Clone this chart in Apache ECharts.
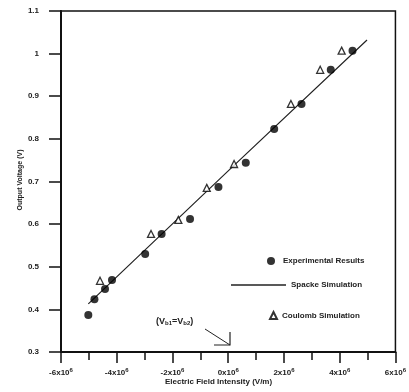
<!DOCTYPE html>
<html>
<head>
<meta charset="utf-8">
<script src="https://cdn.jsdelivr.net/npm/echarts@6/dist/echarts.min.js"></script>
<style>
  html, body { margin: 0; padding: 0; background: #fff; }
  #chart { width: 409px; height: 392px; }
</style>
</head>
<body>
<div id="chart"></div>
<script>
// --- data (field in V/m, voltage in V) ---
var expField = [-5.02e6, -4.8e6, -4.42e6, -4.17e6, -2.98e6, -2.39e6, -1.37e6, -0.35e6, 0.63e6, 1.65e6, 2.63e6, 3.68e6, 4.46e6];
var expVolt = [0.387, 0.424, 0.448, 0.469, 0.530, 0.577, 0.612, 0.687, 0.744, 0.823, 0.882, 0.962, 1.007];

var coulField = [-4.6e6, -2.77e6, -1.79e6, -0.77e6, 0.21e6, 2.25e6, 3.3e6, 4.07e6];
var coulVolt = [0.467, 0.577, 0.610, 0.685, 0.741, 0.882, 0.962, 1.007];

var spackeField = [-5.02e6, 0, 4.98e6];
var spackeVolt = [0.413, 0.725, 1.032];

var seriesNames = ['Experimental Results', 'Spacke Simulation', 'Coulomb Simulation'];
var annotationText = '(V{s|b1}=V{s|b2})';

function pairs(xs, ys) {
  return xs.map(function(x, i) { return [x, ys[i]]; });
}

var FONT = '"Liberation Sans", Arial, sans-serif';

var chart = echarts.init(document.getElementById('chart'), null, { renderer: 'canvas' });

chart.setOption({
  animation: false,
  backgroundColor: '#fff',
  grid: {
    left: 61, right: 9, top: 11, bottom: 40,
    show: true, borderColor: '#111', borderWidth: 1.5
  },
  xAxis: {
    type: 'value',
    min: -6e6, max: 6e6, interval: 2e6,
    axisLine: { onZero: false, lineStyle: { color: '#111', width: 2 } },
    axisTick: { inside: false, length: 11, lineStyle: { color: '#111', width: 1.5 } },
    minorTick: { show: true, splitNumber: 2, length: 8, lineStyle: { color: '#111', width: 1.5 } },
    splitLine: { show: false },
    axisLabel: {
      margin: 15,
      fontFamily: FONT, fontSize: 8, fontWeight: 'bold', color: '#222',
      formatter: function(v) { return (v / 1e6) + 'x10{s|6}'; },
      rich: { s: { fontSize: 6, fontWeight: 'bold', verticalAlign: 'top', padding: [0, 0, 5, 0] } }
    }
  },
  yAxis: {
    type: 'value',
    min: 0.3, max: 1.1, interval: 0.1,
    axisLine: { onZero: false, lineStyle: { color: '#111', width: 2 } },
    axisTick: { inside: false, length: 12, lineStyle: { color: '#111', width: 1.5 } },
    splitLine: { show: false },
    axisLabel: {
      margin: 22,
      fontFamily: FONT, fontSize: 8, fontWeight: 'bold', color: '#222',
      formatter: function(v) { return String(Math.round(v * 10) / 10); }
    }
  },
  legend: [
    {
      data: [{ name: seriesNames[0], icon: 'circle' }],
      left: 262, top: 252, itemWidth: 8, itemHeight: 8,
      textStyle: { fontFamily: FONT, fontSize: 8, fontWeight: 'bold', color: '#222', padding: [0, 0, 0, 3] }
    },
    {
      data: [{ name: seriesNames[1], icon: 'rect' }],
      left: 226, top: 276, itemWidth: 55, itemHeight: 1.4,
      itemStyle: { color: '#222' },
      textStyle: { fontFamily: FONT, fontSize: 8, fontWeight: 'bold', color: '#222', padding: [0, 0, 0, 0] }
    },
    {
      data: [{ name: seriesNames[2], icon: 'triangle' }],
      left: 264, top: 306, itemWidth: 7, itemHeight: 7,
      textStyle: { fontFamily: FONT, fontSize: 8, fontWeight: 'bold', color: '#222', padding: [0, 0, 0, 0] }
    }
  ],
  graphic: [
    {
      type: 'text', rotation: Math.PI / 2,
      style: {
        text: 'Output Voltage (V)', fill: '#222', font: 'bold 7px ' + FONT,
        align: 'center', verticalAlign: 'middle'
      },
      x: 20, y: 180
    },
    {
      type: 'text', left: 165, top: 378,
      style: { text: 'Electric Field Intensity (V/m)', fill: '#222', font: 'bold 8px ' + FONT }
    },
    {
      type: 'text', left: 156, top: 317,
      style: {
        text: annotationText, fill: '#222', font: 'bold 9px ' + FONT,
        rich: { s: { fontSize: 6, fontWeight: 'bold', verticalAlign: 'bottom', padding: [4, 0, 0, 0] } }
      }
    },
    { type: 'line', shape: { x1: 205, y1: 329, x2: 230, y2: 345 }, style: { stroke: '#222', lineWidth: 1 } },
    { type: 'polyline', shape: { points: [[214, 345], [230, 345], [230, 332]] }, style: { stroke: '#222', lineWidth: 1.2, fill: null } }
  ],
  series: [
    {
      name: seriesNames[0], type: 'scatter',
      data: pairs(expField, expVolt),
      symbol: 'circle', symbolSize: 8,
      itemStyle: { color: '#000' }, z: 3
    },
    {
      name: seriesNames[1], type: 'line',
      data: pairs(spackeField, spackeVolt),
      symbol: 'none', lineStyle: { color: '#222', width: 1.2 },
      itemStyle: { color: '#222' }, z: 2
    },
    {
      name: seriesNames[2], type: 'scatter',
      data: pairs(coulField, coulVolt),
      symbol: 'triangle', symbolSize: 7,
      itemStyle: { color: '#fff', borderColor: '#000', borderWidth: 1.3 }, z: 4
    }
  ]
});
</script>
</body>
</html>
